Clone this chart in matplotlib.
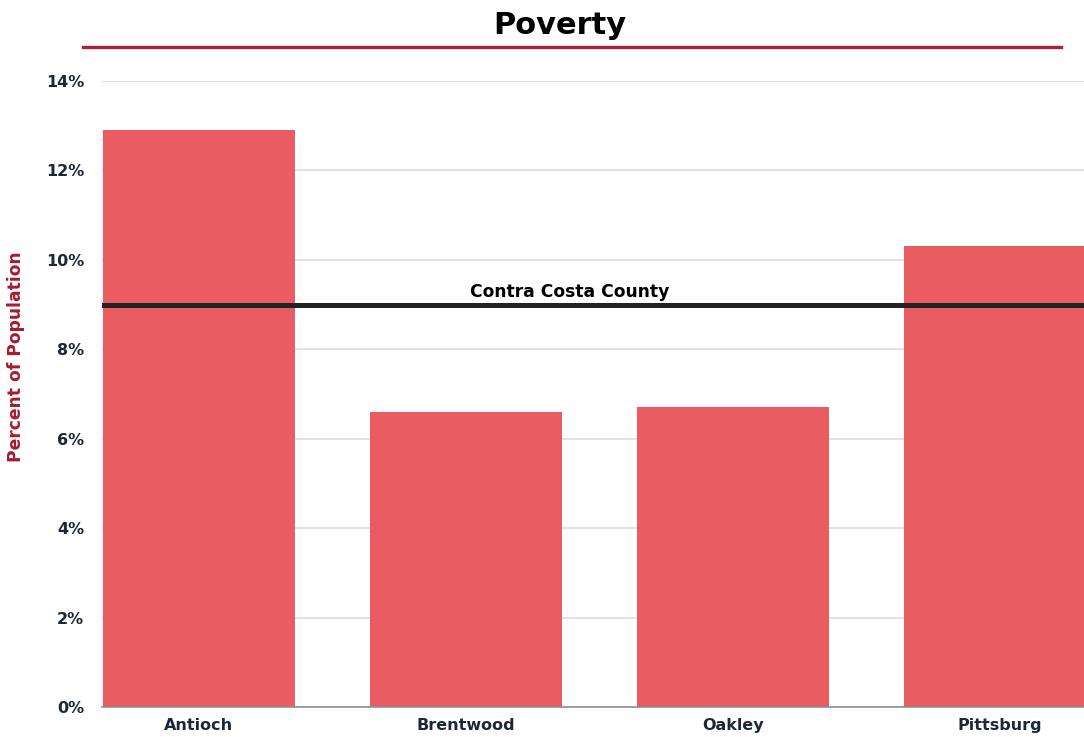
import matplotlib.pyplot as plt
from matplotlib.lines import Line2D

# poverty rate by city, percent of population
cities = ["Antioch", "Brentwood", "Oakley", "Pittsburg"]
poverty_pct = [12.9, 6.6, 6.7, 10.3]
county_pct = 9.0
county_label = "Contra Costa County"
y_ticks = [0, 2, 4, 6, 8, 10, 12, 14]

plt.rcParams['font.family'] = ['DejaVu Sans']

fig = plt.figure(figsize=(10.84, 7.37), dpi=100)
ax = fig.add_axes([102 / 1084, 30 / 737, 1 - 102 / 1084, 626 / 737])

x = range(len(cities))
ax.bar(x, poverty_pct, width=0.72, color="#E85C62", zorder=2)

# county average reference line
ax.axhline(county_pct, color="#222222", linewidth=3.6, zorder=3)
ax.text(1.39, county_pct + 0.08, county_label, ha="center", va="bottom",
        fontsize=12.3, fontweight="bold", color="black", zorder=4)

ax.set_xlim(-0.363, 3.315)
ax.set_ylim(0, 14)
ax.set_yticks(y_ticks)
ax.set_yticklabels([f"{t}%" for t in y_ticks])
ax.set_xticks(list(x))
ax.set_xticklabels(cities)

ax.grid(axis="y", color="#dddddd", linewidth=1.2, zorder=0)
ax.set_axisbelow(True)
for side in ["top", "right", "left"]:
    ax.spines[side].set_visible(False)
ax.spines["bottom"].set_color("#8a9099")
ax.spines["bottom"].set_linewidth(1.2)
ax.tick_params(length=0, labelsize=11.5, labelcolor="#1b2838")
ax.tick_params(axis="x", pad=8)
ax.tick_params(axis="y", pad=13)
for lbl in ax.get_xticklabels() + ax.get_yticklabels():
    lbl.set_fontweight("bold")

ax.set_ylabel("Percent of Population", fontsize=12.3, fontweight="bold",
              color="#A51C30")
ax.yaxis.set_label_coords(-0.078, 0.56)

# title and underline
fig.text(560 / 1084, 1 - 26 / 737, "Poverty", ha="center", va="center",
         fontsize=22, fontweight="heavy", color="black")
fig.add_artist(Line2D([83 / 1084, 1061 / 1084], [1 - 47 / 737, 1 - 47 / 737],
                      color="#A8233A", linewidth=2.4, transform=fig.transFigure))

fig.savefig("out.png", dpi=100)
